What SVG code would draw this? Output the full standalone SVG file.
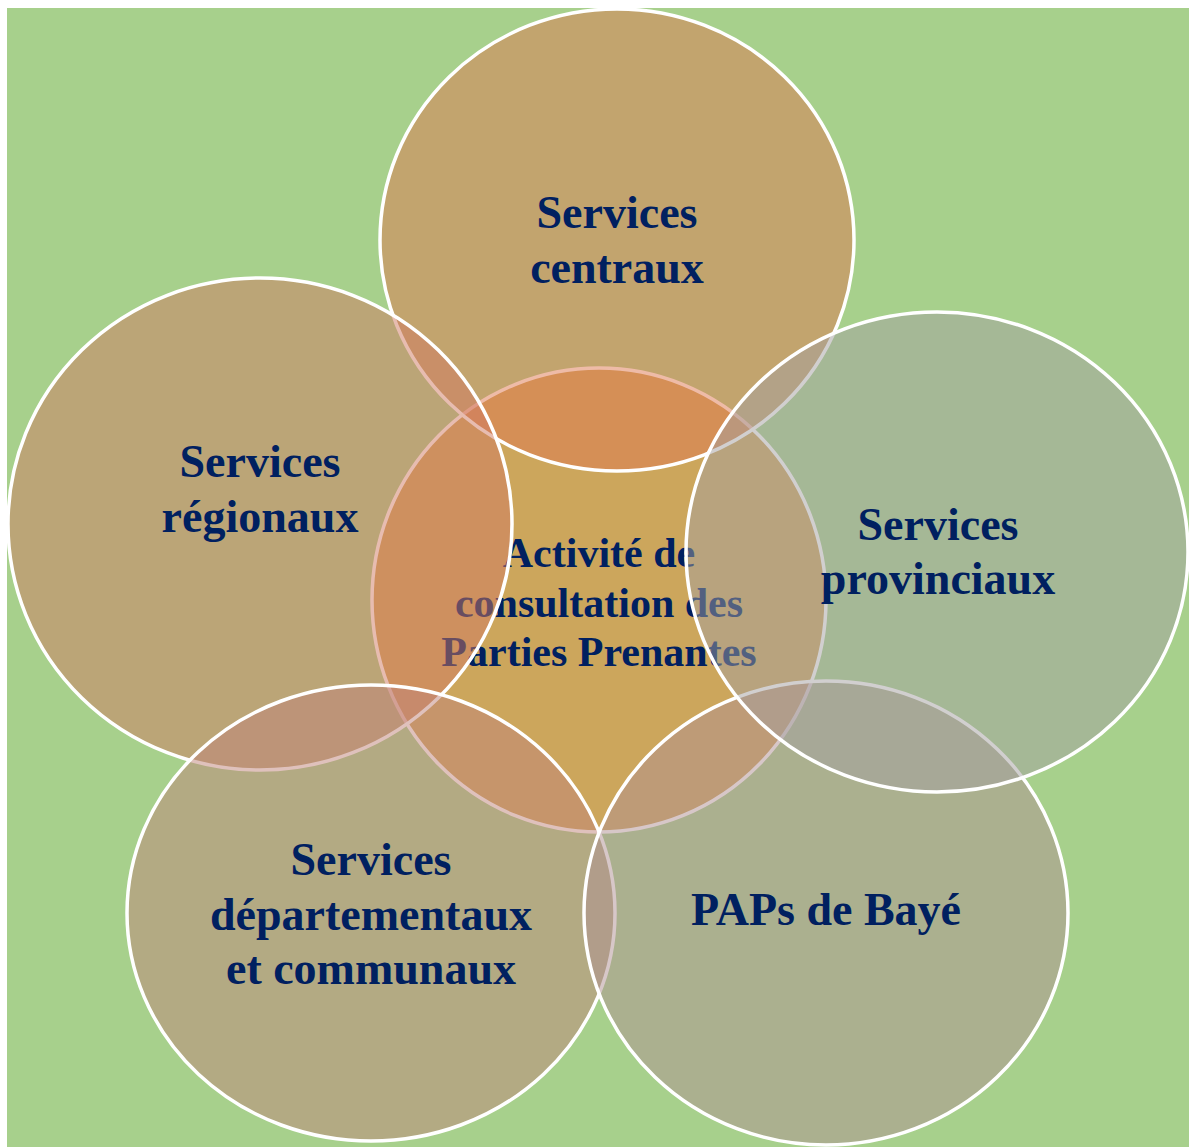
<svg xmlns="http://www.w3.org/2000/svg" width="1189" height="1147" viewBox="0 0 1189 1147">
<style>
.node { stroke: #FFFFFF; stroke-width: 3.5; fill-opacity: 0.5; }
.lbl { font-family: "Liberation Serif", "Times New Roman", serif; font-weight: bold; font-size: 46px; fill: #002060; text-anchor: middle; }
.clbl { font-size: 42px; }
</style>
<rect x="0" y="0" width="1189" height="1147" fill="#FFFFFF"/>
<rect x="7" y="8" width="1182" height="1139" fill="#A7D08C"/>
<g id="center">
  <ellipse class="node" cx="599" cy="600" rx="227" ry="232" fill="#F17C2C"/>
  <text class="lbl clbl" x="599" y="567">Activité de</text>
  <text class="lbl clbl" x="599" y="617">consultation des</text>
  <text class="lbl clbl" x="599" y="666">Parties Prenantes</text>
</g>
<g id="services-centraux">
  <ellipse class="node" cx="617" cy="240" rx="237" ry="231" fill="#DD7850"/>
  <text class="lbl" x="617" y="228">Services</text>
  <text class="lbl" x="617" y="283">centraux</text>
</g>
<g id="services-regionaux">
  <ellipse class="node" cx="260" cy="524" rx="252" ry="246" fill="#CF7A62"/>
  <text class="lbl" x="260" y="477">Services</text>
  <text class="lbl" x="260" y="532">régionaux</text>
</g>
<g id="services-departementaux">
  <ellipse class="node" cx="371" cy="913" rx="244" ry="228" fill="#BF847A"/>
  <text class="lbl" x="371" y="875">Services</text>
  <text class="lbl" x="371" y="930">départementaux</text>
  <text class="lbl" x="371" y="984">et communaux</text>
</g>
<g id="paps-baye">
  <ellipse class="node" cx="826" cy="913" rx="242" ry="232" fill="#AF9092"/>
  <text class="lbl" x="826" y="925">PAPs de Bayé</text>
</g>
<g id="services-provinciaux">
  <ellipse class="node" cx="937" cy="552" rx="251" ry="240" fill="#A3A0A0"/>
  <text class="lbl" x="938" y="540">Services</text>
  <text class="lbl" x="938" y="594">provinciaux</text>
</g>
<g id="connectors"></g>
</svg>
